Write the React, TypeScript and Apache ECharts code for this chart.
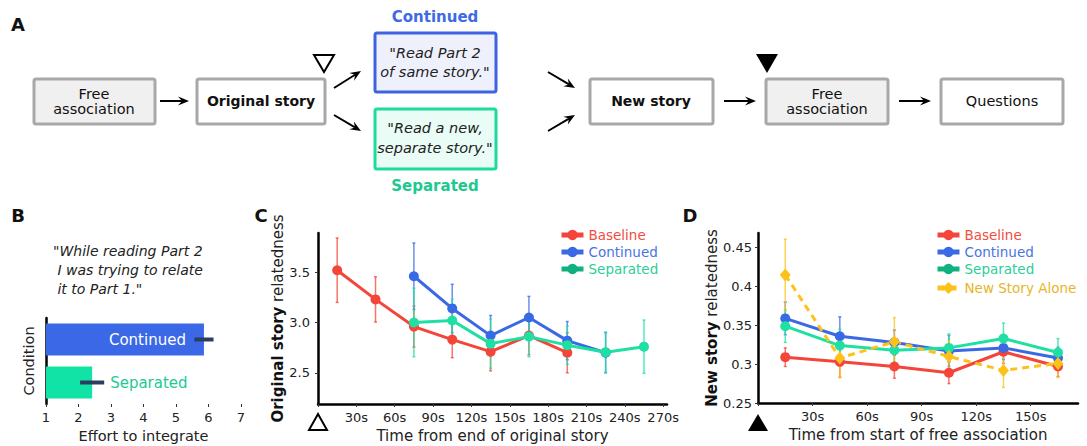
import React, { useEffect, useRef } from "react";
import * as echarts from "echarts";

const FONT = '"DejaVu Sans", Verdana, sans-serif';

// ---------- Panel B ----------
const conditionsB = ["Continued", "Separated"];
const effortB = [5.86, 2.42];
const effortErrB = [0.295, 0.37];
const xTicksB = [1, 2, 3, 4, 5, 6, 7];

// ---------- Panel C ----------
const timesC = [15, 45, 75, 105, 135, 165, 195, 225, 255];
const baselineC = [3.52, 3.23, 2.96, 2.83, 2.71, 2.87, 2.7, null, null];
const baselineErrC = [0.32, 0.225, 0.205, 0.18, 0.19, 0.19, 0.2, null, null];
const continuedC = [null, null, 3.46, 3.14, 2.87, 3.05, 2.82, 2.7, null];
const continuedErrC = [null, null, 0.33, 0.24, 0.2, 0.21, 0.19, 0.2, null];
const separatedC = [null, null, 3.0, 3.02, 2.79, 2.86, 2.775, 2.705, 2.76];
const separatedErrC = [null, null, 0.34, 0.21, 0.245, 0.2, 0.19, 0.2, 0.265];
const xTicksC = [0, 30, 60, 90, 120, 150, 180, 210, 240, 270];
const xLabelsC = [30, 60, 90, 120, 150, 180, 210, 240, 270];
const yTicksC = [2.5, 3.0, 3.5];

// ---------- Panel D ----------
const timesD = [15, 45, 75, 105, 135, 165];
const baselineD = [0.309, 0.303, 0.297, 0.289, 0.316, 0.297];
const baselineErrD = [0.012, 0.02, 0.015, 0.014, 0.015, 0.013];
const continuedD = [0.359, 0.336, 0.328, 0.317, 0.321, 0.308];
const continuedErrD = [0.021, 0.025, 0.016, 0.02, 0.015, 0.014];
const separatedD = [0.349, 0.324, 0.318, 0.321, 0.333, 0.315];
const separatedErrD = [0.021, 0.021, 0.016, 0.018, 0.02, 0.018];
const aloneD = [0.415, 0.308, 0.329, 0.31, 0.292, 0.301];
const aloneErrD = [0.046, 0.025, 0.031, 0.02, 0.022, 0.018];
const xTicksD = [0, 30, 60, 90, 120, 150];
const xLabelsD = [30, 60, 90, 120, 150];
const yTicksD = [0.25, 0.3, 0.35, 0.4, 0.45];

const RED = "#f4453a";
const BLUE = "#3a69e6";
const GREEN = "#1fe0a2";
const YELLOW = "#fcc21b";
const RED_T = "#f24d40";
const BLUE_T = "#4a74e4";
const GREEN_T = "#2bcf98";
const YELLOW_T = "#e8b526";

function pairs(xs: number[], ys: (number | null)[]) {
  const out: number[][] = [];
  xs.forEach((x, i) => {
    if (ys[i] != null) out.push([x, ys[i] as number]);
  });
  return out;
}
function triples(xs: number[], ys: (number | null)[], es: (number | null)[]) {
  const out: number[][] = [];
  xs.forEach((x, i) => {
    if (ys[i] != null && es[i] != null) out.push([x, ys[i] as number, es[i] as number]);
  });
  return out;
}

function errSeries(name: string, idx: number, data: number[][], color: string) {
  return {
    type: "custom",
    name,
    xAxisIndex: idx,
    yAxisIndex: idx,
    z: 1,
    data,
    encode: { x: 0, y: 1 },
    renderItem: (params: any, api: any) => {
      const x = api.value(0);
      const y = api.value(1);
      const e = api.value(2);
      const t = api.coord([x, y + e]);
      const b = api.coord([x, y - e]);
      const st = { stroke: color, lineWidth: 1.5, opacity: 0.75 };
      return {
        type: "group",
        children: [
          { type: "line", shape: { x1: t[0], y1: t[1], x2: b[0], y2: b[1] }, style: st },
          { type: "line", shape: { x1: t[0] - 1.5, y1: t[1], x2: t[0] + 1.5, y2: t[1] }, style: st },
          { type: "line", shape: { x1: b[0] - 1.5, y1: b[1], x2: b[0] + 1.5, y2: b[1] }, style: st },
        ],
      };
    },
  };
}

function lineSeries(name: string, idx: number, data: number[][], color: string, extra: any = {}) {
  return {
    type: "line",
    name,
    xAxisIndex: idx,
    yAxisIndex: idx,
    z: 2,
    data,
    symbol: "circle",
    symbolSize: 10,
    itemStyle: { color },
    lineStyle: { color, width: 3 },
    ...extra,
  };
}

function arrow(x1: number, y1: number, x2: number, y2: number) {
  const dx = x2 - x1, dy = y2 - y1;
  const L = Math.hypot(dx, dy);
  const ux = dx / L, uy = dy / L, px = -uy, py = ux;
  const hl = 11, hw = 4.5, notch = 7;
  const bx = x2 - ux * hl, by = y2 - uy * hl;
  return [
    { type: "line", shape: { x1, y1, x2: x2 - ux * notch, y2: y2 - uy * notch }, style: { stroke: "#000", lineWidth: 2 } },
    {
      type: "polygon",
      shape: { points: [[x2, y2], [bx + px * hw, by + py * hw], [x2 - ux * notch, y2 - uy * notch], [bx - px * hw, by - py * hw]] },
      style: { fill: "#000" },
    },
  ];
}

function box(x: number, y: number, w: number, h: number, fill: string, stroke: string) {
  return { type: "rect", shape: { x, y, width: w, height: h, r: 2 }, style: { fill, stroke, lineWidth: 3 } };
}

function label(text: string, x: number, y: number, opts: any = {}) {
  return {
    type: "text",
    x,
    y,
    style: {
      text,
      fontFamily: FONT,
      fontSize: 14,
      fill: "#111",
      align: "center",
      verticalAlign: "middle",
      ...opts,
    },
  };
}

const GRAY = "#a8a8a8";

const graphics: any[] = [
  label("A", 18, 24, { fontSize: 18, fontWeight: "bold" }),
  label("B", 18, 215, { fontSize: 18, fontWeight: "bold" }),
  label("C", 261, 215, { fontSize: 18, fontWeight: "bold" }),
  label("D", 690, 215, { fontSize: 18, fontWeight: "bold" }),
  box(34, 79, 121, 45, "#f0f0f0", GRAY),
  label("Free\nassociation", 94, 101, { fontSize: 14.5, lineHeight: 15 }),
  ...arrow(160, 101, 189, 101),
  box(197, 79, 128, 45, "#ffffff", GRAY),
  label("Original story", 261, 101, { fontWeight: "bold" }),
  { type: "polygon", shape: { points: [[314, 55], [334, 55], [324, 72]] }, style: { fill: "#fff", stroke: "#000", lineWidth: 2 } },
  ...arrow(334, 88, 361, 71),
  ...arrow(334, 115, 361, 131),
  label("Continued", 435, 17, { fontSize: 15, fontWeight: "bold", fill: "#3e6ae6" }),
  box(375, 33, 121, 59, "#eef0fc", "#3d63e2"),
  label('"Read Part 2\nof same story."', 435, 62, { fontStyle: "italic", fontSize: 14.5, lineHeight: 19, fill: "#222" }),
  box(375, 109, 121, 60, "#e9fcf6", "#1ddb9c"),
  label('"Read a new,\nseparate story."', 435, 138, { fontStyle: "italic", fontSize: 14.5, lineHeight: 20, fill: "#222" }),
  label("Separated", 435, 186, { fontSize: 15, fontWeight: "bold", fill: "#1dc98f" }),
  ...arrow(548, 72, 575, 88),
  ...arrow(548, 131, 575, 115),
  box(590, 79, 123, 45, "#ffffff", GRAY),
  label("New story", 651, 101, { fontWeight: "bold" }),
  ...arrow(724, 101, 756, 101),
  { type: "polygon", shape: { points: [[756, 54], [778, 54], [767, 73]] }, style: { fill: "#000" } },
  box(766, 79, 122, 45, "#f0f0f0", GRAY),
  label("Free\nassociation", 827, 101, { fontSize: 14.5, lineHeight: 15 }),
  ...arrow(899, 101, 931, 101),
  box(941, 79, 122, 45, "#ffffff", GRAY),
  label("Questions", 1002, 101, { fontSize: 14.5 }),
  {
    type: "text",
    x: 53,
    y: 241,
    style: {
      text: '"While reading Part 2\n I was trying to relate\n it to Part 1."',
      fontFamily: FONT,
      fontSize: 14,
      fontStyle: "italic",
      lineHeight: 19,
      fill: "#222",
      align: "left",
      verticalAlign: "top",
    },
  },
  { type: "polygon", shape: { points: [[309, 430], [327, 430], [318, 414]] }, style: { fill: "#fff", stroke: "#000", lineWidth: 2 } },
  { type: "polygon", shape: { points: [[748, 431], [768, 431], [758, 414]] }, style: { fill: "#000" } },
];

const axisLineStyle = { lineStyle: { color: "#000", width: 2.5 } };
const tickLabelStyle = { fontFamily: FONT, fontSize: 13, color: "#222" };
const nameStyle = { fontFamily: FONT, fontSize: 15, color: "#222" };

function legendItem(name: string, textColor: string, iconColor: string) {
  return {
    name,
    textStyle: { color: textColor },
    itemStyle: { color: iconColor },
    lineStyle: { color: iconColor, width: 5 },
  };
}

const legendBase = {
  orient: "vertical",
  itemWidth: 22,
  itemHeight: 13,
  itemGap: 3,
  lineStyle: { width: 5 },
  textStyle: { fontFamily: FONT, fontSize: 13.5 },
};

const option: any = {
  animation: false,
  backgroundColor: "#ffffff",
  graphic: graphics,
  grid: [
    { left: 46, top: 318, width: 195, height: 86 },
    { left: 318, top: 233, width: 349, height: 171 },
    { left: 758, top: 233, width: 320, height: 170 },
  ],
  legend: [
    {
      ...legendBase,
      left: 554,
      top: 223,
      data: [
        legendItem("Baseline", RED_T, RED),
        legendItem("Continued", BLUE_T, BLUE),
        legendItem("Separated", GREEN_T, "#10b080"),
      ],
    },
    {
      ...legendBase,
      left: 930,
      top: 223,
      data: [
        legendItem("Baseline", RED_T, RED),
        legendItem("Continued", BLUE_T, BLUE),
        legendItem("Separated", GREEN_T, "#10b080"),
      ],
    },
    {
      ...legendBase,
      left: 930,
      top: 276,
      itemHeight: 15,
      data: [legendItem("New Story Alone", YELLOW_T, YELLOW)],
    },
  ],
  xAxis: [
    {
      gridIndex: 0,
      type: "value",
      min: 1,
      max: 7,
      interval: 1,
      axisLine: axisLineStyle,
      axisTick: { show: true, length: 3, lineStyle: { color: "#333" } },
      splitLine: { show: false },
      axisLabel: { ...tickLabelStyle, margin: 7, customValues: xTicksB },
      name: "Effort to integrate",
      nameLocation: "middle",
      nameGap: 24,
      nameTextStyle: { ...nameStyle, fontSize: 14.5 },
    },
    {
      gridIndex: 1,
      type: "value",
      min: 0,
      max: 273,
      axisLine: axisLineStyle,
      axisTick: { show: true, length: 3, customValues: xTicksC, lineStyle: { color: "#333" } },
      splitLine: { show: false },
      axisLabel: { ...tickLabelStyle, margin: 7, customValues: xLabelsC, formatter: (v: number) => v + "s" },
      name: "Time from end of original story",
      nameLocation: "middle",
      nameGap: 24,
      nameTextStyle: nameStyle,
    },
    {
      gridIndex: 2,
      type: "value",
      min: 0,
      max: 176,
      axisLine: axisLineStyle,
      axisTick: { show: true, length: 3, customValues: xTicksD, lineStyle: { color: "#333" } },
      splitLine: { show: false },
      axisLabel: { ...tickLabelStyle, margin: 7, customValues: xLabelsD, formatter: (v: number) => v + "s" },
      name: "Time from start of free association",
      nameLocation: "middle",
      nameGap: 24,
      nameTextStyle: nameStyle,
    },
  ],
  yAxis: [
    {
      gridIndex: 0,
      type: "category",
      data: conditionsB,
      inverse: true,
      axisLine: axisLineStyle,
      axisTick: { show: false },
      axisLabel: { show: false },
      name: "Condition",
      nameLocation: "middle",
      nameGap: 10,
      nameRotate: 90,
      nameTextStyle: { ...nameStyle, fontSize: 14.5 },
    },
    {
      gridIndex: 1,
      type: "value",
      min: 2.19,
      max: 3.89,
      axisLine: { show: true, ...axisLineStyle },
      axisTick: { show: true, length: 3, customValues: yTicksC, lineStyle: { color: "#333" } },
      splitLine: { show: false },
      axisLabel: { ...tickLabelStyle, margin: 8, customValues: yTicksC, formatter: (v: number) => v.toFixed(1) },
      name: "{b|Original story} relatedness",
      nameLocation: "middle",
      nameGap: 30,
      nameRotate: 90,
      nameTextStyle: { ...nameStyle, rich: { b: { fontFamily: FONT, fontSize: 15, fontWeight: "bold", color: "#111" } } },
    },
    {
      gridIndex: 2,
      type: "value",
      min: 0.25,
      max: 0.469,
      axisLine: { show: true, ...axisLineStyle },
      axisTick: { show: true, length: 3, customValues: yTicksD, lineStyle: { color: "#333" } },
      splitLine: { show: false },
      axisLabel: { ...tickLabelStyle, margin: 6, customValues: yTicksD, formatter: (v: number) => String(+v.toFixed(2)) },
      name: "{b|New story} relatedness",
      nameLocation: "middle",
      nameGap: 37,
      nameRotate: 90,
      nameTextStyle: { ...nameStyle, rich: { b: { fontFamily: FONT, fontSize: 15, fontWeight: "bold", color: "#111" } } },
    },
  ],
  series: [
    {
      type: "bar",
      name: "effort",
      xAxisIndex: 0,
      yAxisIndex: 0,
      barWidth: 32,
      data: effortB.map((v, i) => ({
        value: v,
        itemStyle: { color: i === 0 ? "#3a68e6" : "#10e3a5" },
        label: {
          show: true,
          formatter: conditionsB[i],
          position: i === 0 ? "insideRight" : "right",
          distance: 18,
          color: i === 0 ? "#ffffff" : "#22c995",
          fontFamily: FONT,
          fontSize: 15,
        },
      })),
    },
    {
      type: "custom",
      name: "effortErr",
      xAxisIndex: 0,
      yAxisIndex: 0,
      z: 5,
      data: effortB.map((v, i) => [v, i, effortErrB[i]]),
      encode: { x: 0, y: 1 },
      renderItem: (params: any, api: any) => {
        const v = api.value(0);
        const c = api.value(1);
        const e = api.value(2);
        const a = api.coord([v - e, c]);
        const b = api.coord([v + e, c]);
        return { type: "line", shape: { x1: a[0], y1: a[1], x2: b[0], y2: b[1] }, style: { stroke: "#2d3d60", lineWidth: 4 } };
      },
    },
    errSeries("errCB", 1, triples(timesC, baselineC, baselineErrC), RED),
    errSeries("errCC", 1, triples(timesC, continuedC, continuedErrC), BLUE),
    errSeries("errCS", 1, triples(timesC, separatedC, separatedErrC), GREEN),
    lineSeries("Baseline", 1, pairs(timesC, baselineC), RED),
    lineSeries("Continued", 1, pairs(timesC, continuedC), BLUE),
    lineSeries("Separated", 1, pairs(timesC, separatedC), GREEN),
    errSeries("errDB", 2, triples(timesD, baselineD, baselineErrD), RED),
    errSeries("errDC", 2, triples(timesD, continuedD, continuedErrD), BLUE),
    errSeries("errDS", 2, triples(timesD, separatedD, separatedErrD), GREEN),
    errSeries("errDN", 2, triples(timesD, aloneD, aloneErrD), YELLOW),
    lineSeries("Baseline", 2, pairs(timesD, baselineD), RED),
    lineSeries("Continued", 2, pairs(timesD, continuedD), BLUE),
    lineSeries("Separated", 2, pairs(timesD, separatedD), GREEN),
    lineSeries("New Story Alone", 2, pairs(timesD, aloneD), YELLOW, {
      symbol: "diamond",
      symbolSize: [11, 13],
      lineStyle: { color: YELLOW, width: 3, type: [7, 5] },
    }),
  ],
};

export default function App() {
  const ref = useRef<HTMLDivElement>(null);
  useEffect(() => {
    if (!ref.current) return;
    const chart = echarts.init(ref.current, undefined, { renderer: "svg" });
    chart.setOption(option);
    return () => chart.dispose();
  }, []);
  return (
    <div
      ref={ref}
      style={{ position: "fixed", left: 0, top: 0, width: 1087, height: 446, background: "#fff" }}
    />
  );
}
